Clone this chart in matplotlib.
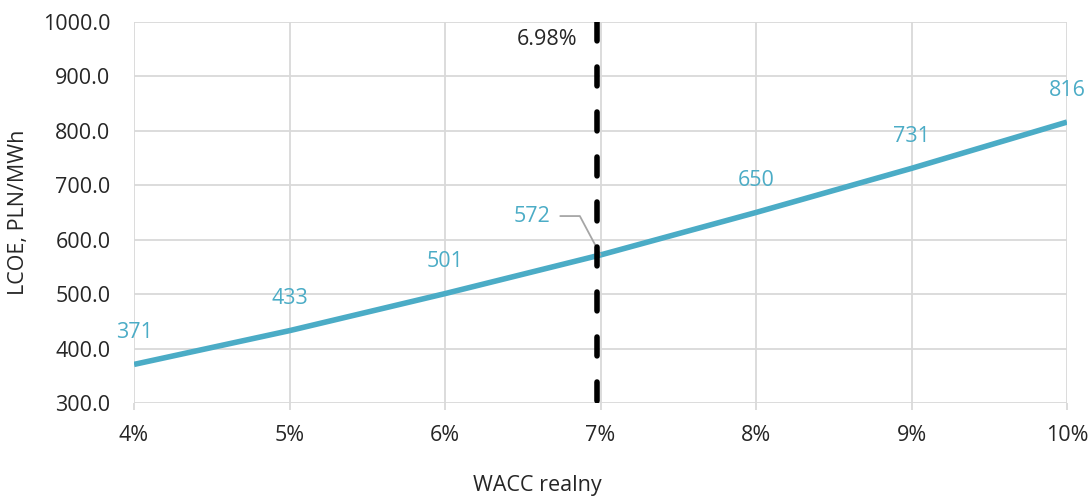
import numpy as np
import matplotlib
matplotlib.use('Agg')
import matplotlib.pyplot as plt

plt.rcParams['font.family'] = ['Open Sans', 'DejaVu Sans']

# data
wacc = [4, 5, 6, 7, 8, 9, 10]
lcoe = [371, 433, 501, 572, 650, 731, 816]
wacc_mark = 6.98
x_ticks = [4, 5, 6, 7, 8, 9, 10]
y_ticks = [300, 400, 500, 600, 700, 800, 900, 1000]

line_col = '#4BACC6'
grid_col = '#D9D9D9'
text_col = '#262626'
fs = 15.5

fig = plt.figure(figsize=(10.88, 4.97), dpi=100)
ax = fig.add_axes([0.1232, 0.189, 0.8575, 0.767])

ax.plot(wacc, lcoe, color=line_col, lw=4, solid_capstyle='butt', zorder=3)

# vertical marker line, drawn from the top down so the pattern starts at 1000
ax.plot([wacc_mark, wacc_mark], [y_ticks[-1], y_ticks[0]], color='black', lw=4,
        dashes=(3.4, 4.7), dash_capstyle='round', zorder=4)
ax.text(wacc_mark - 0.13, 967, f'{wacc_mark:.2f}%', ha='right', va='center',
        fontsize=fs, color=text_col)

# data labels
for x, y in zip(wacc, lcoe):
    if x == 7:
        ax.annotate(str(y), xy=(x, y), xytext=(-36, 28), textcoords='offset points',
                    ha='right', va='center', fontsize=fs, color=line_col,
                    arrowprops=dict(arrowstyle='-', color='#A6A6A6', lw=1.3,
                                    shrinkA=5, shrinkB=0, relpos=(1, 0.5),
                                    connectionstyle='angle,angleA=0,angleB=118,rad=0'))
    else:
        ax.annotate(str(y), xy=(x, y), xytext=(0, 23), textcoords='offset points',
                    ha='center', va='center', fontsize=fs, color=line_col)

ax.set_xlim(x_ticks[0], x_ticks[-1])
ax.set_ylim(y_ticks[0], y_ticks[-1])
ax.set_xticks(x_ticks)
ax.set_xticklabels([f'{t}%' for t in x_ticks])
ax.set_yticks(y_ticks)
ax.set_yticklabels([f'{t:.1f}' for t in y_ticks])

ax.grid(True, color=grid_col, lw=1.3, zorder=0)
ax.set_axisbelow(True)
for s in ax.spines.values():
    s.set_visible(False)
ax.tick_params(axis='x', length=5, width=1.3, color=grid_col, pad=11,
               labelsize=fs, labelcolor=text_col)
ax.tick_params(axis='y', length=0, pad=17, labelsize=fs, labelcolor=text_col)

ax.set_ylabel('LCOE, PLN/MWh', fontsize=fs, color=text_col, va='center')
ax.yaxis.set_label_coords(-0.124, 0.5)
ax.set_xlabel('WACC realny', fontsize=fs, color=text_col, va='center')
ax.xaxis.set_label_coords(0.432, -0.215)

fig.savefig('out.png', dpi=100)
